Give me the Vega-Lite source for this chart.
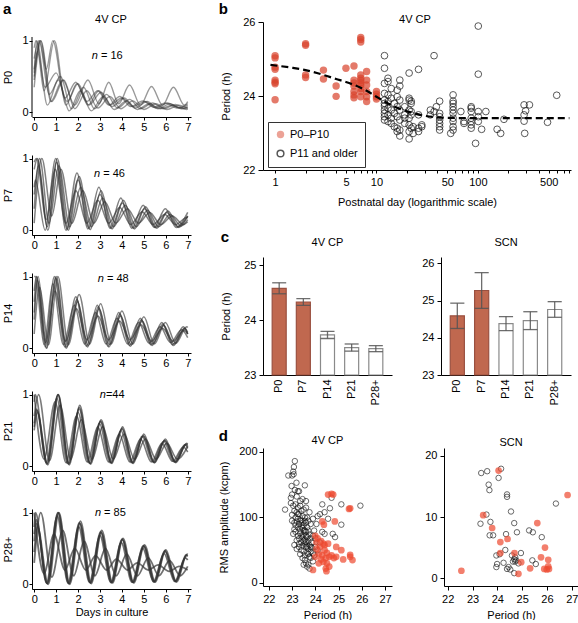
{
"$schema": "https://vega.github.io/schema/vega-lite/v6.json",
"padding": {"left": 2, "top": 2, "right": 0, "bottom": 0},
"config": {
  "font": "Liberation Sans",
  "view": {"stroke": null},
  "axis": {"grid": false, "domainColor": "#000", "tickColor": "#000", "labelColor": "#000", "titleColor": "#000", "labelFontSize": 11, "titleFontSize": 11, "titleFontWeight": "normal", "tickSize": 4, "labelPadding": 3, "labelFlush": false, "labelOverlap": false},
  "title": {"fontSize": 11, "fontWeight": "normal", "color": "#000"},
  "legend": {"labelFontSize": 11, "labelColor": "#000"}
},
"resolve": {"scale": {"fill": "independent", "stroke": "independent", "size": "independent"}, "legend": {"fill": "independent", "stroke": "independent", "size": "independent"}},
"datasets": {
  "a0": [
    {"k":1,"t":0,"v":0.75},{"k":1,"t":0.22,"v":1},{"k":1,"t":0.68,"v":0.25},{"k":1,"t":1.2,"v":0.5},{"k":1,"t":1.7,"v":0.05},{"k":1,"t":2.25,"v":0.35},{"k":1,"t":2.75,"v":0.05},{"k":1,"t":3.3,"v":0.25},{"k":1,"t":3.8,"v":0.06},{"k":1,"t":4.35,"v":0.18},{"k":1,"t":4.85,"v":0.05},{"k":1,"t":5.4,"v":0.13},{"k":1,"t":5.9,"v":0.05},{"k":1,"t":6.45,"v":0.11},{"k":1,"t":6.95,"v":0.04},{"k":1,"t":7,"v":0.045},
    {"k":2,"t":0,"v":0.55},{"k":2,"t":0.12,"v":1},{"k":2,"t":0.6,"v":0.1},{"k":2,"t":1.1,"v":0.45},{"k":2,"t":1.6,"v":0.02},{"k":2,"t":2.1,"v":0.3},{"k":2,"t":2.6,"v":0.02},{"k":2,"t":3.15,"v":0.22},{"k":2,"t":3.65,"v":0.04},{"k":2,"t":4.2,"v":0.16},{"k":2,"t":4.7,"v":0.04},{"k":2,"t":5.25,"v":0.12},{"k":2,"t":5.75,"v":0.05},{"k":2,"t":6.3,"v":0.1},{"k":2,"t":6.8,"v":0.05},{"k":2,"t":7,"v":0.07},
    {"k":3,"t":0,"v":0.6},{"k":3,"t":0.15,"v":0.85},{"k":3,"t":0.45,"v":0.3},{"k":3,"t":0.92,"v":1},{"k":3,"t":1.45,"v":0.1},{"k":3,"t":1.95,"v":0.4},{"k":3,"t":2.45,"v":0.1},{"k":3,"t":2.95,"v":0.3},{"k":3,"t":3.45,"v":0.1},{"k":3,"t":4,"v":0.2},{"k":3,"t":4.5,"v":0.08},{"k":3,"t":5.05,"v":0.15},{"k":3,"t":5.55,"v":0.06},{"k":3,"t":6.1,"v":0.13},{"k":3,"t":6.6,"v":0.06},{"k":3,"t":7,"v":0.1},
    {"k":4,"t":0,"v":0.5},{"k":4,"t":0.3,"v":1},{"k":4,"t":0.75,"v":0.15},{"k":4,"t":1.3,"v":0.45},{"k":4,"t":1.85,"v":0.1},{"k":4,"t":2.45,"v":0.45},{"k":4,"t":2.95,"v":0.12},{"k":4,"t":3.4,"v":0.42},{"k":4,"t":3.85,"v":0.12},{"k":4,"t":4.35,"v":0.38},{"k":4,"t":4.85,"v":0.1},{"k":4,"t":5.35,"v":0.36},{"k":4,"t":5.85,"v":0.1},{"k":4,"t":6.35,"v":0.35},{"k":4,"t":6.85,"v":0.1},{"k":4,"t":7,"v":0.15},
    {"k":5,"t":0,"v":0.9},{"k":5,"t":0.08,"v":1},{"k":5,"t":0.5,"v":0.35},{"k":5,"t":1,"v":0.55},{"k":5,"t":1.5,"v":0.15},{"k":5,"t":2,"v":0.4},{"k":5,"t":2.5,"v":0.1},{"k":5,"t":3.05,"v":0.28},{"k":5,"t":3.55,"v":0.08},{"k":5,"t":4.1,"v":0.2},{"k":5,"t":4.6,"v":0.06},{"k":5,"t":5.15,"v":0.15},{"k":5,"t":5.65,"v":0.05},{"k":5,"t":6.2,"v":0.12},{"k":5,"t":6.7,"v":0.05},{"k":5,"t":7,"v":0.08},
    {"k":6,"t":0,"v":0.35},{"k":6,"t":0.3,"v":1},{"k":6,"t":0.8,"v":0.15},{"k":6,"t":1.35,"v":0.45},{"k":6,"t":1.85,"v":0.05},{"k":6,"t":2.4,"v":0.3},{"k":6,"t":2.9,"v":0.06},{"k":6,"t":3.45,"v":0.22},{"k":6,"t":3.95,"v":0.05},{"k":6,"t":4.5,"v":0.16},{"k":6,"t":5,"v":0.04},{"k":6,"t":5.55,"v":0.12},{"k":6,"t":6.05,"v":0.04},{"k":6,"t":6.6,"v":0.1},{"k":6,"t":7,"v":0.05},
    {"k":7,"t":0,"v":0.45},{"k":7,"t":0.25,"v":1},{"k":7,"t":0.55,"v":0.6},{"k":7,"t":0.85,"v":1},{"k":7,"t":1.4,"v":0.2},{"k":7,"t":1.9,"v":0.42},{"k":7,"t":2.4,"v":0.15},{"k":7,"t":2.9,"v":0.3},{"k":7,"t":3.4,"v":0.1},{"k":7,"t":3.9,"v":0.22},{"k":7,"t":4.4,"v":0.08},{"k":7,"t":4.95,"v":0.16},{"k":7,"t":5.45,"v":0.07},{"k":7,"t":6,"v":0.13},{"k":7,"t":6.5,"v":0.06},{"k":7,"t":7,"v":0.12}
  ],
  "a7": [
    {"k":1,"t":0,"v":0.85},{"k":1,"t":0.15,"v":1},{"k":1,"t":0.6,"v":0.05},{"k":1,"t":1.02,"v":0.95},{"k":1,"t":1.5,"v":0.02},{"k":1,"t":2,"v":0.7},{"k":1,"t":2.5,"v":0.03},{"k":1,"t":3,"v":0.5},{"k":1,"t":3.5,"v":0.03},{"k":1,"t":4.02,"v":0.38},{"k":1,"t":4.52,"v":0.03},{"k":1,"t":5.03,"v":0.3},{"k":1,"t":5.53,"v":0.04},{"k":1,"t":6.05,"v":0.25},{"k":1,"t":6.55,"v":0.05},{"k":1,"t":7,"v":0.2},
    {"k":2,"t":0,"v":0.3},{"k":2,"t":0.25,"v":1},{"k":2,"t":0.68,"v":0.1},{"k":2,"t":1.12,"v":0.9},{"k":2,"t":1.62,"v":0.05},{"k":2,"t":2.12,"v":0.6},{"k":2,"t":2.62,"v":0.05},{"k":2,"t":3.12,"v":0.45},{"k":2,"t":3.62,"v":0.05},{"k":2,"t":4.15,"v":0.35},{"k":2,"t":4.65,"v":0.05},{"k":2,"t":5.17,"v":0.28},{"k":2,"t":5.67,"v":0.05},{"k":2,"t":6.2,"v":0.22},{"k":2,"t":6.7,"v":0.06},{"k":2,"t":7,"v":0.15},
    {"k":3,"t":0,"v":0.6},{"k":3,"t":0.05,"v":0.7},{"k":3,"t":0.5,"v":0},{"k":3,"t":0.98,"v":1},{"k":3,"t":1.45,"v":0},{"k":3,"t":1.95,"v":0.8},{"k":3,"t":2.45,"v":0.02},{"k":3,"t":2.95,"v":0.6},{"k":3,"t":3.45,"v":0.03},{"k":3,"t":3.95,"v":0.45},{"k":3,"t":4.45,"v":0.03},{"k":3,"t":4.97,"v":0.35},{"k":3,"t":5.47,"v":0.04},{"k":3,"t":5.98,"v":0.3},{"k":3,"t":6.48,"v":0.04},{"k":3,"t":7,"v":0.25},
    {"k":4,"t":0,"v":0.95},{"k":4,"t":0.1,"v":1},{"k":4,"t":0.55,"v":0.15},{"k":4,"t":0.95,"v":0.85},{"k":4,"t":1.45,"v":0.1},{"k":4,"t":1.9,"v":0.55},{"k":4,"t":2.4,"v":0.1},{"k":4,"t":2.9,"v":0.42},{"k":4,"t":3.4,"v":0.1},{"k":4,"t":3.9,"v":0.32},{"k":4,"t":4.4,"v":0.08},{"k":4,"t":4.92,"v":0.26},{"k":4,"t":5.42,"v":0.08},{"k":4,"t":5.95,"v":0.22},{"k":4,"t":6.45,"v":0.08},{"k":4,"t":6.95,"v":0.18},{"k":4,"t":7,"v":0.17},
    {"k":5,"t":0,"v":0.1},{"k":5,"t":0.35,"v":1},{"k":5,"t":0.8,"v":0.2},{"k":5,"t":1.22,"v":0.85},{"k":5,"t":1.72,"v":0.1},{"k":5,"t":2.22,"v":0.55},{"k":5,"t":2.72,"v":0.1},{"k":5,"t":3.22,"v":0.4},{"k":5,"t":3.72,"v":0.1},{"k":5,"t":4.25,"v":0.3},{"k":5,"t":4.75,"v":0.1},{"k":5,"t":5.27,"v":0.25},{"k":5,"t":5.77,"v":0.08},{"k":5,"t":6.3,"v":0.2},{"k":5,"t":6.8,"v":0.08},{"k":5,"t":7,"v":0.12},
    {"k":6,"t":0,"v":0.5},{"k":6,"t":0.2,"v":0.9},{"k":6,"t":0.62,"v":0},{"k":6,"t":1.05,"v":1},{"k":6,"t":1.55,"v":0},{"k":6,"t":2.05,"v":0.75},{"k":6,"t":2.55,"v":0.01},{"k":6,"t":3.05,"v":0.55},{"k":6,"t":3.55,"v":0.02},{"k":6,"t":4.07,"v":0.42},{"k":6,"t":4.57,"v":0.02},{"k":6,"t":5.08,"v":0.33},{"k":6,"t":5.58,"v":0.03},{"k":6,"t":6.1,"v":0.27},{"k":6,"t":6.6,"v":0.04},{"k":6,"t":7,"v":0.2}
  ],
  "a14": [
    {"k":1,"t":0,"v":0.8},{"k":1,"t":0.1,"v":1},{"k":1,"t":0.5,"v":0.02},{"k":1,"t":0.92,"v":1},{"k":1,"t":1.4,"v":0.02},{"k":1,"t":1.9,"v":0.72},{"k":1,"t":2.38,"v":0.03},{"k":1,"t":2.88,"v":0.6},{"k":1,"t":3.36,"v":0.03},{"k":1,"t":3.86,"v":0.5},{"k":1,"t":4.34,"v":0.04},{"k":1,"t":4.84,"v":0.42},{"k":1,"t":5.32,"v":0.05},{"k":1,"t":5.82,"v":0.36},{"k":1,"t":6.3,"v":0.05},{"k":1,"t":6.8,"v":0.3},{"k":1,"t":7,"v":0.2},
    {"k":2,"t":0,"v":0.5},{"k":2,"t":0.15,"v":0.95},{"k":2,"t":0.55,"v":0},{"k":2,"t":1,"v":1},{"k":2,"t":1.48,"v":0.02},{"k":2,"t":1.98,"v":0.65},{"k":2,"t":2.46,"v":0.04},{"k":2,"t":2.96,"v":0.55},{"k":2,"t":3.44,"v":0.05},{"k":2,"t":3.94,"v":0.45},{"k":2,"t":4.42,"v":0.05},{"k":2,"t":4.92,"v":0.38},{"k":2,"t":5.4,"v":0.06},{"k":2,"t":5.9,"v":0.32},{"k":2,"t":6.38,"v":0.06},{"k":2,"t":6.88,"v":0.28},{"k":2,"t":7,"v":0.22},
    {"k":3,"t":0,"v":1},{"k":3,"t":0.05,"v":1},{"k":3,"t":0.45,"v":0.05},{"k":3,"t":0.85,"v":0.9},{"k":3,"t":1.33,"v":0.05},{"k":3,"t":1.83,"v":0.6},{"k":3,"t":2.3,"v":0.06},{"k":3,"t":2.8,"v":0.5},{"k":3,"t":3.28,"v":0.06},{"k":3,"t":3.78,"v":0.42},{"k":3,"t":4.26,"v":0.06},{"k":3,"t":4.76,"v":0.36},{"k":3,"t":5.24,"v":0.07},{"k":3,"t":5.74,"v":0.3},{"k":3,"t":6.22,"v":0.08},{"k":3,"t":6.72,"v":0.26},{"k":3,"t":7,"v":0.15},
    {"k":4,"t":0,"v":0.2},{"k":4,"t":0.25,"v":0.85},{"k":4,"t":0.65,"v":0.05},{"k":4,"t":1.08,"v":1},{"k":4,"t":1.56,"v":0.05},{"k":4,"t":2.05,"v":0.75},{"k":4,"t":2.53,"v":0.06},{"k":4,"t":3.03,"v":0.62},{"k":4,"t":3.51,"v":0.06},{"k":4,"t":4,"v":0.52},{"k":4,"t":4.5,"v":0.06},{"k":4,"t":5,"v":0.44},{"k":4,"t":5.48,"v":0.06},{"k":4,"t":5.98,"v":0.36},{"k":4,"t":6.46,"v":0.07},{"k":4,"t":6.96,"v":0.3},{"k":4,"t":7,"v":0.29},
    {"k":5,"t":0,"v":0.65},{"k":5,"t":0.12,"v":1},{"k":5,"t":0.52,"v":0.08},{"k":5,"t":0.95,"v":0.8},{"k":5,"t":1.43,"v":0.1},{"k":5,"t":1.93,"v":0.55},{"k":5,"t":2.41,"v":0.12},{"k":5,"t":2.91,"v":0.45},{"k":5,"t":3.39,"v":0.12},{"k":5,"t":3.89,"v":0.38},{"k":5,"t":4.37,"v":0.12},{"k":5,"t":4.87,"v":0.33},{"k":5,"t":5.35,"v":0.1},{"k":5,"t":5.85,"v":0.28},{"k":5,"t":6.33,"v":0.1},{"k":5,"t":6.83,"v":0.25},{"k":5,"t":7,"v":0.2},
    {"k":6,"t":0,"v":0.4},{"k":6,"t":0.18,"v":1},{"k":6,"t":0.58,"v":0},{"k":6,"t":0.98,"v":0.98},{"k":6,"t":1.46,"v":0},{"k":6,"t":1.95,"v":0.68},{"k":6,"t":2.43,"v":0.02},{"k":6,"t":2.93,"v":0.58},{"k":6,"t":3.41,"v":0.02},{"k":6,"t":3.91,"v":0.48},{"k":6,"t":4.39,"v":0.03},{"k":6,"t":4.89,"v":0.4},{"k":6,"t":5.37,"v":0.04},{"k":6,"t":5.87,"v":0.34},{"k":6,"t":6.35,"v":0.04},{"k":6,"t":6.85,"v":0.28},{"k":6,"t":7,"v":0.2}
  ],
  "a21": [
    {"k":1,"t":0,"v":0.6},{"k":1,"t":0.1,"v":0.8},{"k":1,"t":0.58,"v":0.03},{"k":1,"t":1.08,"v":1},{"k":1,"t":1.57,"v":0.03},{"k":1,"t":2.05,"v":0.8},{"k":1,"t":2.54,"v":0.04},{"k":1,"t":3.02,"v":0.62},{"k":1,"t":3.51,"v":0.05},{"k":1,"t":4,"v":0.52},{"k":1,"t":4.48,"v":0.05},{"k":1,"t":4.97,"v":0.42},{"k":1,"t":5.46,"v":0.06},{"k":1,"t":5.95,"v":0.36},{"k":1,"t":6.43,"v":0.06},{"k":1,"t":6.92,"v":0.3},{"k":1,"t":7,"v":0.28},
    {"k":2,"t":0,"v":0.9},{"k":2,"t":0.05,"v":1},{"k":2,"t":0.55,"v":0.05},{"k":2,"t":1.03,"v":0.95},{"k":2,"t":1.52,"v":0.04},{"k":2,"t":2,"v":0.75},{"k":2,"t":2.49,"v":0.05},{"k":2,"t":2.97,"v":0.6},{"k":2,"t":3.46,"v":0.05},{"k":2,"t":3.95,"v":0.5},{"k":2,"t":4.43,"v":0.05},{"k":2,"t":4.92,"v":0.42},{"k":2,"t":5.41,"v":0.06},{"k":2,"t":5.9,"v":0.35},{"k":2,"t":6.38,"v":0.06},{"k":2,"t":6.87,"v":0.3},{"k":2,"t":7,"v":0.25},
    {"k":3,"t":0,"v":0.5},{"k":3,"t":0.15,"v":0.75},{"k":3,"t":0.62,"v":0.02},{"k":3,"t":1.1,"v":1},{"k":3,"t":1.6,"v":0.02},{"k":3,"t":2.08,"v":0.85},{"k":3,"t":2.57,"v":0.03},{"k":3,"t":3.05,"v":0.65},{"k":3,"t":3.54,"v":0.04},{"k":3,"t":4.03,"v":0.55},{"k":3,"t":4.51,"v":0.04},{"k":3,"t":5,"v":0.45},{"k":3,"t":5.49,"v":0.05},{"k":3,"t":5.98,"v":0.38},{"k":3,"t":6.46,"v":0.05},{"k":3,"t":6.95,"v":0.32},{"k":3,"t":7,"v":0.31},
    {"k":4,"t":0,"v":0.7},{"k":4,"t":0.2,"v":1},{"k":4,"t":0.7,"v":0.08},{"k":4,"t":1.18,"v":0.85},{"k":4,"t":1.67,"v":0.1},{"k":4,"t":2.15,"v":0.65},{"k":4,"t":2.64,"v":0.1},{"k":4,"t":3.12,"v":0.55},{"k":4,"t":3.61,"v":0.1},{"k":4,"t":4.1,"v":0.45},{"k":4,"t":4.58,"v":0.1},{"k":4,"t":5.07,"v":0.38},{"k":4,"t":5.56,"v":0.1},{"k":4,"t":6.05,"v":0.32},{"k":4,"t":6.53,"v":0.1},{"k":4,"t":7,"v":0.28},
    {"k":5,"t":0,"v":1},{"k":5,"t":0.45,"v":0.1},{"k":5,"t":0.95,"v":0.9},{"k":5,"t":1.45,"v":0.05},{"k":5,"t":1.93,"v":0.7},{"k":5,"t":2.42,"v":0.06},{"k":5,"t":2.9,"v":0.55},{"k":5,"t":3.39,"v":0.06},{"k":5,"t":3.88,"v":0.45},{"k":5,"t":4.36,"v":0.06},{"k":5,"t":4.85,"v":0.38},{"k":5,"t":5.34,"v":0.06},{"k":5,"t":5.83,"v":0.32},{"k":5,"t":6.31,"v":0.07},{"k":5,"t":6.8,"v":0.27},{"k":5,"t":7,"v":0.2},
    {"k":6,"t":0,"v":0.55},{"k":6,"t":0.12,"v":0.78},{"k":6,"t":0.6,"v":0.04},{"k":6,"t":1.09,"v":1},{"k":6,"t":1.58,"v":0.04},{"k":6,"t":2.06,"v":0.82},{"k":6,"t":2.55,"v":0.04},{"k":6,"t":3.03,"v":0.63},{"k":6,"t":3.52,"v":0.05},{"k":6,"t":4.01,"v":0.53},{"k":6,"t":4.49,"v":0.05},{"k":6,"t":4.98,"v":0.43},{"k":6,"t":5.47,"v":0.05},{"k":6,"t":5.96,"v":0.36},{"k":6,"t":6.44,"v":0.06},{"k":6,"t":6.93,"v":0.31},{"k":6,"t":7,"v":0.3}
  ],
  "a28": [
    {"k":1,"t":0,"v":0.6},{"k":1,"t":0.1,"v":0.85},{"k":1,"t":0.6,"v":0.01},{"k":1,"t":1.1,"v":1},{"k":1,"t":1.59,"v":0.01},{"k":1,"t":2.08,"v":0.85},{"k":1,"t":2.57,"v":0.02},{"k":1,"t":3.05,"v":0.72},{"k":1,"t":3.54,"v":0.03},{"k":1,"t":4.02,"v":0.62},{"k":1,"t":4.51,"v":0.03},{"k":1,"t":5,"v":0.53},{"k":1,"t":5.49,"v":0.04},{"k":1,"t":5.97,"v":0.46},{"k":1,"t":6.46,"v":0.04},{"k":1,"t":6.94,"v":0.4},{"k":1,"t":7,"v":0.39},
    {"k":2,"t":0,"v":0.8},{"k":2,"t":0.06,"v":1},{"k":2,"t":0.56,"v":0.02},{"k":2,"t":1.05,"v":0.95},{"k":2,"t":1.54,"v":0.02},{"k":2,"t":2.03,"v":0.8},{"k":2,"t":2.52,"v":0.03},{"k":2,"t":3,"v":0.68},{"k":2,"t":3.49,"v":0.03},{"k":2,"t":3.97,"v":0.58},{"k":2,"t":4.46,"v":0.03},{"k":2,"t":4.95,"v":0.5},{"k":2,"t":5.44,"v":0.04},{"k":2,"t":5.92,"v":0.43},{"k":2,"t":6.41,"v":0.04},{"k":2,"t":6.9,"v":0.37},{"k":2,"t":7,"v":0.34},
    {"k":3,"t":0,"v":0.45},{"k":3,"t":0.15,"v":0.8},{"k":3,"t":0.64,"v":0},{"k":3,"t":1.13,"v":1},{"k":3,"t":1.62,"v":0},{"k":3,"t":2.11,"v":0.88},{"k":3,"t":2.6,"v":0.01},{"k":3,"t":3.08,"v":0.75},{"k":3,"t":3.57,"v":0.02},{"k":3,"t":4.05,"v":0.64},{"k":3,"t":4.54,"v":0.02},{"k":3,"t":5.03,"v":0.55},{"k":3,"t":5.52,"v":0.03},{"k":3,"t":6,"v":0.48},{"k":3,"t":6.49,"v":0.03},{"k":3,"t":6.97,"v":0.42},{"k":3,"t":7,"v":0.415},
    {"k":4,"t":0,"v":0.3},{"k":4,"t":0.3,"v":1},{"k":4,"t":0.8,"v":0.1},{"k":4,"t":1.3,"v":0.75},{"k":4,"t":1.8,"v":0.12},{"k":4,"t":2.28,"v":0.6},{"k":4,"t":2.77,"v":0.12},{"k":4,"t":3.25,"v":0.5},{"k":4,"t":3.74,"v":0.12},{"k":4,"t":4.22,"v":0.42},{"k":4,"t":4.71,"v":0.12},{"k":4,"t":5.2,"v":0.37},{"k":4,"t":5.69,"v":0.12},{"k":4,"t":6.17,"v":0.33},{"k":4,"t":6.66,"v":0.12},{"k":4,"t":7,"v":0.25},
    {"k":5,"t":0,"v":1},{"k":5,"t":0.45,"v":0.15},{"k":5,"t":0.9,"v":0.7},{"k":5,"t":1.4,"v":0.2},{"k":5,"t":1.85,"v":0.5},{"k":5,"t":2.35,"v":0.2},{"k":5,"t":2.8,"v":0.4},{"k":5,"t":3.3,"v":0.2},{"k":5,"t":3.75,"v":0.35},{"k":5,"t":4.25,"v":0.2},{"k":5,"t":4.7,"v":0.3},{"k":5,"t":5.2,"v":0.2},{"k":5,"t":5.65,"v":0.27},{"k":5,"t":6.15,"v":0.18},{"k":5,"t":6.6,"v":0.25},{"k":5,"t":7,"v":0.2},
    {"k":6,"t":0,"v":0.7},{"k":6,"t":0.09,"v":0.9},{"k":6,"t":0.59,"v":0.01},{"k":6,"t":1.08,"v":1},{"k":6,"t":1.57,"v":0.01},{"k":6,"t":2.06,"v":0.86},{"k":6,"t":2.55,"v":0.02},{"k":6,"t":3.03,"v":0.73},{"k":6,"t":3.52,"v":0.02},{"k":6,"t":4.01,"v":0.63},{"k":6,"t":4.5,"v":0.03},{"k":6,"t":4.98,"v":0.54},{"k":6,"t":5.47,"v":0.03},{"k":6,"t":5.96,"v":0.47},{"k":6,"t":6.44,"v":0.04},{"k":6,"t":6.93,"v":0.41},{"k":6,"t":7,"v":0.4}
  ],
  "b": [
    {"d":12,"p":25.09,"g":"o"},{"d":12,"p":24.75,"g":"o"},{"d":12,"p":24.34,"g":"o"},{"d":12,"p":24.07,"g":"o"},{"d":12,"p":23.89,"g":"o"},{"d":12,"p":23.8,"g":"o"},{"d":12,"p":23.73,"g":"o"},{"d":12,"p":23.62,"g":"o"},{"d":12,"p":23.53,"g":"o"},{"d":12,"p":23.44,"g":"o"},{"d":12,"p":23.35,"g":"o"},
    {"d":13,"p":24.48,"g":"o"},{"d":13,"p":24.39,"g":"o"},{"d":13,"p":24.03,"g":"o"},{"d":13,"p":23.85,"g":"o"},{"d":13,"p":23.67,"g":"o"},{"d":13,"p":23.49,"g":"o"},{"d":13,"p":23.31,"g":"o"},
    {"d":14,"p":24.2,"g":"o"},{"d":14,"p":23.94,"g":"o"},{"d":14,"p":23.62,"g":"o"},{"d":14,"p":23.4,"g":"o"},{"d":14,"p":23.26,"g":"o"},
    {"d":15,"p":23.8,"g":"o"},{"d":15,"p":23.53,"g":"o"},{"d":15,"p":23.17,"g":"o"},
    {"d":16,"p":24.16,"g":"o"},{"d":16,"p":23.98,"g":"o"},{"d":16,"p":23.71,"g":"o"},{"d":16,"p":23.44,"g":"o"},{"d":16,"p":23.13,"g":"o"},{"d":16,"p":23.04,"g":"o"},
    {"d":17,"p":24.43,"g":"o"},{"d":17,"p":24.27,"g":"o"},{"d":17,"p":23.89,"g":"o"},{"d":17,"p":23.62,"g":"o"},{"d":17,"p":23.35,"g":"o"},{"d":17,"p":23.08,"g":"o"},{"d":17,"p":22.92,"g":"o"},
    {"d":19,"p":23.71,"g":"o"},{"d":19,"p":23.49,"g":"o"},{"d":19,"p":23.4,"g":"o"},{"d":19,"p":23.26,"g":"o"},
    {"d":21,"p":24.62,"g":"o"},{"d":21,"p":23.94,"g":"o"},{"d":21,"p":23.89,"g":"o"},{"d":21,"p":23.62,"g":"o"},{"d":21,"p":23.4,"g":"o"},{"d":21,"p":23.22,"g":"o"},{"d":21,"p":23.04,"g":"o"},{"d":21,"p":22.84,"g":"o"},
    {"d":22,"p":23.86,"g":"o"},{"d":22,"p":23.8,"g":"o"},{"d":22,"p":23.49,"g":"o"},{"d":22,"p":23.13,"g":"o"},{"d":22,"p":23.58,"g":"o"},
    {"d":23,"p":23.17,"g":"o"},{"d":23,"p":22.99,"g":"o"},
    {"d":26,"p":24.72,"g":"o"},{"d":26,"p":23.49,"g":"o"},{"d":26,"p":23.13,"g":"o"},{"d":26,"p":23.04,"g":"o"},
    {"d":28,"p":23.22,"g":"o"},{"d":28,"p":23.17,"g":"o"},
    {"d":34,"p":23.62,"g":"o"},{"d":34,"p":23.49,"g":"o"},
    {"d":37,"p":25.09,"g":"o"},{"d":37,"p":23.58,"g":"o"},{"d":39,"p":23.71,"g":"o"},
    {"d":42,"p":23.86,"g":"o"},{"d":42,"p":23.53,"g":"o"},{"d":42,"p":23.44,"g":"o"},{"d":42,"p":23.35,"g":"o"},{"d":42,"p":23.26,"g":"o"},{"d":42,"p":23.17,"g":"o"},{"d":42,"p":23.08,"g":"o"},
    {"d":54,"p":22.99,"g":"o"},
    {"d":57,"p":24.03,"g":"o"},{"d":57,"p":23.86,"g":"o"},{"d":57,"p":23.8,"g":"o"},{"d":57,"p":23.71,"g":"o"},{"d":57,"p":23.62,"g":"o"},{"d":57,"p":23.53,"g":"o"},{"d":57,"p":23.4,"g":"o"},{"d":57,"p":23.31,"g":"o"},{"d":57,"p":23.17,"g":"o"},{"d":57,"p":23.08,"g":"o"},
    {"d":68,"p":23.58,"g":"o"},{"d":73,"p":23.26,"g":"o"},{"d":73,"p":23.31,"g":"o"},
    {"d":86,"p":23.71,"g":"o"},{"d":86,"p":23.67,"g":"o"},{"d":86,"p":23.58,"g":"o"},{"d":86,"p":23.4,"g":"o"},{"d":86,"p":23.31,"g":"o"},{"d":86,"p":23.22,"g":"o"},{"d":86,"p":23.13,"g":"o"},
    {"d":95,"p":22.72,"g":"o"},
    {"d":101,"p":25.89,"g":"o"},{"d":101,"p":24.59,"g":"o"},{"d":101,"p":23.58,"g":"o"},{"d":101,"p":23.44,"g":"o"},{"d":101,"p":23.31,"g":"o"},
    {"d":109,"p":23.1,"g":"o"},{"d":120,"p":23.58,"g":"o"},{"d":155,"p":23.1,"g":"o"},{"d":168,"p":22.99,"g":"o"},{"d":181,"p":23.37,"g":"o"},
    {"d":286,"p":23.76,"g":"o"},{"d":286,"p":23.49,"g":"o"},{"d":286,"p":23.32,"g":"o"},{"d":296,"p":23.6,"g":"o"},{"d":290,"p":22.99,"g":"o"},{"d":323,"p":23.76,"g":"o"},
    {"d":487,"p":23.29,"g":"o"},{"d":600,"p":24.02,"g":"o"},
    {"d":1,"p":25.09,"g":"y"},{"d":1,"p":25.03,"g":"y"},{"d":1,"p":24.78,"g":"y"},{"d":1,"p":24.72,"g":"y"},{"d":1,"p":24.43,"g":"y"},{"d":1,"p":24.37,"g":"y"},{"d":1,"p":24.33,"g":"y"},{"d":1,"p":23.9,"g":"y"},
    {"d":2,"p":25.41,"g":"y"},{"d":2,"p":25.37,"g":"y"},{"d":2,"p":24.57,"g":"y"},{"d":2,"p":24.5,"g":"y"},
    {"d":3,"p":24.7,"g":"y"},{"d":3,"p":24.46,"g":"y"},
    {"d":4,"p":24.27,"g":"y"},{"d":4,"p":23.99,"g":"y"},
    {"d":5,"p":24.75,"g":"y"},
    {"d":6,"p":24.81,"g":"y"},{"d":6,"p":24.43,"g":"y"},{"d":6,"p":24.35,"g":"y"},{"d":6,"p":24.27,"g":"y"},{"d":6,"p":24.12,"g":"y"},{"d":6,"p":24.03,"g":"y"},{"d":6,"p":23.95,"g":"y"},
    {"d":7,"p":25.58,"g":"y"},{"d":7,"p":25.53,"g":"y"},{"d":7,"p":25.46,"g":"y"},{"d":7,"p":24.57,"g":"y"},{"d":7,"p":24.48,"g":"y"},{"d":7,"p":24.42,"g":"y"},{"d":7,"p":24.36,"g":"y"},{"d":7,"p":24.3,"g":"y"},{"d":7,"p":24.2,"g":"y"},{"d":7,"p":24.12,"g":"y"},{"d":7,"p":23.98,"g":"y"},
    {"d":8,"p":24.66,"g":"y"},{"d":8,"p":24.43,"g":"y"},{"d":8,"p":24.3,"g":"y"},{"d":8,"p":24.12,"g":"y"},{"d":8,"p":23.98,"g":"y"},{"d":8,"p":23.85,"g":"y"},
    {"d":10,"p":24.12,"g":"y"},{"d":10,"p":24.05,"g":"y"},{"d":10,"p":23.98,"g":"y"},{"d":10,"p":23.92,"g":"y"}
  ],
  "bf": [
    {"d":0.9,"p":24.84},{"d":1.5,"p":24.76},{"d":2,"p":24.7},{"d":3,"p":24.57},{"d":4,"p":24.46},{"d":5,"p":24.38},{"d":6,"p":24.3},{"d":7,"p":24.22},{"d":8,"p":24.14},{"d":10,"p":23.98},{"d":13,"p":23.8},{"d":16,"p":23.68},{"d":21,"p":23.57},{"d":28,"p":23.48},{"d":37,"p":23.43},{"d":50,"p":23.41},{"d":100,"p":23.4},{"d":800,"p":23.4}
  ],
  "c4": [
    {"a":"P0","m":24.58,"e":0.1},{"a":"P7","m":24.33,"e":0.06},{"a":"P14","m":23.73,"e":0.065},{"a":"P21","m":23.5,"e":0.065},{"a":"P28+","m":23.48,"e":0.055}
  ],
  "cs": [
    {"a":"P0","m":24.59,"e":0.34},{"a":"P7","m":25.27,"e":0.48},{"a":"P14","m":24.38,"e":0.19},{"a":"P21","m":24.46,"e":0.24},{"a":"P28+","m":24.76,"e":0.21}
  ],
  "d4": [
    {"p":23.12,"a":186,"g":"o"},{"p":23.08,"a":177,"g":"o"},{"p":23.05,"a":170,"g":"o"},{"p":22.84,"a":164,"g":"o"},{"p":23.0,"a":164,"g":"o"},{"p":23.07,"a":166,"g":"o"},{"p":23.19,"a":153,"g":"o"},{"p":23.55,"a":149,"g":"o"},{"p":22.98,"a":148,"g":"o"},{"p":23.12,"a":142,"g":"o"},{"p":23.3,"a":140,"g":"o"},{"p":23.0,"a":135,"g":"o"},{"p":22.95,"a":130,"g":"o"},{"p":23.2,"a":132,"g":"o"},{"p":23.45,"a":128,"g":"o"},{"p":23.6,"a":125,"g":"o"},{"p":22.7,"a":112,"g":"o"},
    {"p":22.95,"a":122,"g":"o"},{"p":23.05,"a":118,"g":"o"},{"p":23.15,"a":120,"g":"o"},{"p":23.25,"a":115,"g":"o"},{"p":23.35,"a":118,"g":"o"},{"p":23.1,"a":110,"g":"o"},{"p":23.2,"a":108,"g":"o"},{"p":23.3,"a":105,"g":"o"},{"p":23.4,"a":110,"g":"o"},{"p":23.5,"a":112,"g":"o"},{"p":23.6,"a":115,"g":"o"},{"p":23.75,"a":108,"g":"o"},{"p":23.0,"a":104,"g":"o"},{"p":23.45,"a":102,"g":"o"},{"p":23.55,"a":100,"g":"o"},{"p":23.15,"a":100,"g":"o"},
    {"p":23.0,"a":95,"g":"o"},{"p":23.1,"a":92,"g":"o"},{"p":23.2,"a":94,"g":"o"},{"p":23.3,"a":90,"g":"o"},{"p":23.4,"a":96,"g":"o"},{"p":23.5,"a":88,"g":"o"},{"p":23.6,"a":92,"g":"o"},{"p":23.7,"a":95,"g":"o"},{"p":23.8,"a":90,"g":"o"},{"p":23.25,"a":85,"g":"o"},{"p":23.35,"a":82,"g":"o"},{"p":23.45,"a":84,"g":"o"},{"p":23.55,"a":80,"g":"o"},{"p":23.65,"a":85,"g":"o"},{"p":23.9,"a":98,"g":"o"},{"p":23.1,"a":82,"g":"o"},
    {"p":23.05,"a":75,"g":"o"},{"p":23.15,"a":78,"g":"o"},{"p":23.25,"a":72,"g":"o"},{"p":23.35,"a":76,"g":"o"},{"p":23.45,"a":70,"g":"o"},{"p":23.5,"a":74,"g":"o"},{"p":23.55,"a":66,"g":"o"},{"p":23.6,"a":78,"g":"o"},{"p":23.65,"a":70,"g":"o"},{"p":23.7,"a":64,"g":"o"},{"p":23.75,"a":74,"g":"o"},{"p":23.8,"a":68,"g":"o"},{"p":23.4,"a":62,"g":"o"},{"p":23.2,"a":65,"g":"o"},{"p":23.3,"a":60,"g":"o"},{"p":23.85,"a":62,"g":"o"},{"p":23.9,"a":72,"g":"o"},{"p":23.55,"a":60,"g":"o"},
    {"p":23.1,"a":58,"g":"o"},{"p":23.2,"a":52,"g":"o"},{"p":23.3,"a":55,"g":"o"},{"p":23.4,"a":50,"g":"o"},{"p":23.45,"a":57,"g":"o"},{"p":23.5,"a":48,"g":"o"},{"p":23.6,"a":55,"g":"o"},{"p":23.65,"a":46,"g":"o"},{"p":23.7,"a":52,"g":"o"},{"p":23.75,"a":58,"g":"o"},{"p":23.8,"a":48,"g":"o"},{"p":23.85,"a":54,"g":"o"},{"p":23.9,"a":45,"g":"o"},{"p":23.55,"a":42,"g":"o"},{"p":23.35,"a":44,"g":"o"},
    {"p":23.45,"a":38,"g":"o"},{"p":23.55,"a":35,"g":"o"},{"p":23.6,"a":30,"g":"o"},{"p":23.65,"a":25,"g":"o"},{"p":23.7,"a":28,"g":"o"},{"p":23.8,"a":38,"g":"o"},{"p":23.75,"a":22,"g":"o"},{"p":23.5,"a":28,"g":"o"},{"p":23.9,"a":33,"g":"o"},
    {"p":24.3,"a":120,"g":"o"},{"p":24.63,"a":114,"g":"o"},{"p":24.7,"a":130,"g":"o"},{"p":25.12,"a":120,"g":"o"},{"p":25.94,"a":118,"g":"o"},{"p":25.12,"a":89,"g":"o"},{"p":24.4,"a":108,"g":"o"},{"p":24.2,"a":105,"g":"o"},{"p":24.1,"a":102,"g":"o"},{"p":24.55,"a":98,"g":"o"},{"p":24.75,"a":75,"g":"o"},{"p":24.3,"a":78,"g":"o"},{"p":24.4,"a":75,"g":"o"},{"p":24.05,"a":90,"g":"o"},{"p":24.0,"a":68,"g":"o"},{"p":24.2,"a":62,"g":"o"},{"p":24.85,"a":70,"g":"o"},{"p":23.95,"a":80,"g":"o"},{"p":24.0,"a":55,"g":"o"},{"p":24.1,"a":50,"g":"o"},{"p":23.95,"a":42,"g":"o"},
    {"p":23.25,"a":98,"g":"o"},{"p":23.35,"a":95,"g":"o"},{"p":23.45,"a":92,"g":"o"},{"p":23.55,"a":95,"g":"o"},{"p":23.65,"a":100,"g":"o"},{"p":23.4,"a":86,"g":"o"},{"p":23.5,"a":80,"g":"o"},{"p":23.6,"a":72,"g":"o"},{"p":23.7,"a":80,"g":"o"},{"p":23.3,"a":68,"g":"o"},{"p":23.4,"a":72,"g":"o"},{"p":23.5,"a":64,"g":"o"},{"p":23.6,"a":62,"g":"o"},{"p":23.65,"a":56,"g":"o"},{"p":23.7,"a":44,"g":"o"},{"p":23.75,"a":40,"g":"o"},{"p":23.8,"a":55,"g":"o"},{"p":23.15,"a":88,"g":"o"},{"p":23.25,"a":105,"g":"o"},{"p":23.35,"a":125,"g":"o"},{"p":23.25,"a":140,"g":"o"},
    {"p":24.55,"a":135,"g":"y"},{"p":24.7,"a":136,"g":"y"},{"p":24.77,"a":135,"g":"y"},{"p":25.45,"a":113,"g":"y"},{"p":25.5,"a":114,"g":"y"},{"p":24.84,"a":94,"g":"y"},{"p":24.3,"a":94,"g":"y"},{"p":24.37,"a":89,"g":"y"},{"p":24.0,"a":72,"g":"y"},{"p":24.1,"a":68,"g":"y"},{"p":24.25,"a":64,"g":"y"},{"p":24.35,"a":60,"g":"y"},{"p":24.2,"a":55,"g":"y"},{"p":24.05,"a":52,"g":"y"},{"p":24.4,"a":50,"g":"y"},{"p":24.15,"a":45,"g":"y"},{"p":24.3,"a":42,"g":"y"},{"p":24.5,"a":46,"g":"y"},{"p":24.6,"a":40,"g":"y"},{"p":24.45,"a":38,"g":"y"},{"p":24.25,"a":36,"g":"y"},{"p":24.35,"a":32,"g":"y"},{"p":24.5,"a":30,"g":"y"},{"p":24.7,"a":42,"g":"y"},{"p":24.8,"a":38,"g":"y"},{"p":24.9,"a":40,"g":"y"},{"p":25.12,"a":50,"g":"y"},{"p":25.2,"a":36,"g":"y"},{"p":25.5,"a":43,"g":"y"},{"p":25.6,"a":35,"g":"y"},{"p":25.5,"a":40,"g":"y"},{"p":23.9,"a":20,"g":"y"},{"p":24.48,"a":18,"g":"y"},{"p":24.45,"a":22,"g":"y"},{"p":24.6,"a":25,"g":"y"},{"p":24.0,"a":40,"g":"y"},{"p":24.15,"a":30,"g":"y"},{"p":24.4,"a":58,"g":"y"},{"p":24.55,"a":60,"g":"y"},{"p":24.9,"a":55,"g":"y"},{"p":24.05,"a":62,"g":"y"}
  ],
  "ds": [
    {"p":23.35,"a":17.2,"g":"o"},{"p":23.59,"a":17.5,"g":"o"},{"p":24.15,"a":17.9,"g":"o"},{"p":24.05,"a":16.4,"g":"o"},{"p":23.65,"a":15.3,"g":"o"},{"p":23.68,"a":14.4,"g":"o"},{"p":24.39,"a":13.7,"g":"o"},{"p":24.39,"a":13.3,"g":"o"},{"p":24.55,"a":10.9,"g":"o"},{"p":26.36,"a":12.2,"g":"o"},{"p":23.56,"a":10.4,"g":"o"},{"p":23.32,"a":8.9,"g":"o"},{"p":23.72,"a":9.2,"g":"o"},{"p":23.69,"a":7.0,"g":"o"},{"p":23.83,"a":7.0,"g":"o"},{"p":24.68,"a":9.0,"g":"o"},{"p":24.79,"a":7.5,"g":"o"},{"p":24.35,"a":7.2,"g":"o"},{"p":25.28,"a":7.8,"g":"o"},{"p":25.43,"a":7.5,"g":"o"},{"p":25.79,"a":6.7,"g":"o"},{"p":24.32,"a":4.6,"g":"o"},{"p":23.96,"a":3.7,"g":"o"},{"p":24.09,"a":3.9,"g":"o"},{"p":24.59,"a":3.7,"g":"o"},{"p":24.72,"a":3.4,"g":"o"},{"p":24.95,"a":4.1,"g":"o"},{"p":25.41,"a":2.9,"g":"o"},{"p":25.55,"a":2.3,"g":"o"},{"p":23.99,"a":2.3,"g":"o"},{"p":23.96,"a":1.8,"g":"o"},{"p":24.25,"a":2.5,"g":"o"},{"p":24.45,"a":1.8,"g":"o"},{"p":24.52,"a":1.4,"g":"o"},{"p":24.39,"a":1.5,"g":"o"},{"p":24.63,"a":2.7,"g":"o"},{"p":24.68,"a":3.1,"g":"o"},{"p":24.76,"a":2.9,"g":"o"},{"p":24.85,"a":2.4,"g":"o"},{"p":24.72,"a":2.7,"g":"o"},{"p":24.68,"a":0.8,"g":"o"},
    {"p":22.55,"a":1.2,"g":"y"},{"p":23.43,"a":10.3,"g":"y"},{"p":23.79,"a":8.2,"g":"y"},{"p":24.05,"a":17.6,"g":"y"},{"p":24.12,"a":5.9,"g":"y"},{"p":24.41,"a":6.4,"g":"y"},{"p":24.12,"a":4.1,"g":"y"},{"p":24.69,"a":4.1,"g":"y"},{"p":24.96,"a":2.6,"g":"y"},{"p":24.85,"a":0.7,"g":"y"},{"p":25.61,"a":9.0,"g":"y"},{"p":25.92,"a":5.0,"g":"y"},{"p":25.76,"a":3.4,"g":"y"},{"p":25.32,"a":1.6,"g":"y"},{"p":26.05,"a":3.0,"g":"y"},{"p":26.05,"a":1.9,"g":"y"},{"p":26.08,"a":1.5,"g":"y"},{"p":25.99,"a":1.4,"g":"y"},{"p":25.89,"a":1.5,"g":"y"},{"p":26.83,"a":13.6,"g":"y"}
  ]
},
"columns": 2,
"align": "none",
"spacing": 27,
"concat": [
  {
    "title": {"text": "a", "anchor": "start", "frame": "bounds", "fontSize": 15, "fontWeight": "bold", "offset": -3},
    "spacing": 20,
    "vconcat": [
      {"width": 159, "height": 95,
       "resolve": {"axis": {"x": "independent", "y": "independent"}},
       "layer": [
        {"data": {"name": "a0"}, "mark": {"type": "line", "interpolate": "monotone", "color": "#333", "strokeWidth": 1.4, "opacity": 0.5, "clip": true},
         "encoding": {"x": {"field": "t", "type": "quantitative", "scale": {"domain": [-0.1, 7.15], "nice": false, "zero": false}, "axis": {"values": [0,1,2,3,4,5,6,7], "format": "d", "labelOverlap": false, "title": null, "tickSize": 3, "labelPadding": 1}},
                      "y": {"field": "v", "type": "quantitative", "scale": {"domain": [-0.065, 1.259], "nice": false}, "axis": {"values": [0,1], "format": "d", "domain": false, "title": "P0", "titleY": 55, "tickSize": 3, "labelPadding": 1, "titlePadding": 8}},
                      "detail": {"field": "k", "type": "nominal"}}},
        {"data": {"values": [{}]}, "mark": {"type": "rule", "color": "#000", "strokeWidth": 1}, "encoding": {"x": {"datum": -0.1, "axis": null}, "y": {"datum": -0.065, "axis": null}, "y2": {"datum": 1.05}}},
        {"data": {"values": [{}]}, "mark": {"type": "text", "fontSize": 11, "baseline": "middle", "dy": -2}, "encoding": {"x": {"datum": 3.5, "axis": null}, "y": {"datum": 1.259, "axis": null}, "text": {"value": "4V CP"}}},
        {"data": {"values": [{}]}, "mark": {"type": "text", "fontStyle": "italic", "align": "right", "dx": -2, "fontSize": 11}, "encoding": {"x": {"datum": 3.0, "axis": null}, "y": {"datum": 0.78, "axis": null}, "text": {"value": "n"}}},
        {"data": {"values": [{}]}, "mark": {"type": "text", "align": "left", "dx": 1, "fontSize": 11}, "encoding": {"x": {"datum": 3.0, "axis": null}, "y": {"datum": 0.78, "axis": null}, "text": {"value": "= 16"}}}
       ]},
      {"width": 159, "height": 80,
       "resolve": {"axis": {"x": "independent", "y": "independent"}},
       "layer": [
        {"data": {"name": "a7"}, "mark": {"type": "line", "interpolate": "monotone", "color": "#333", "strokeWidth": 1.5, "opacity": 0.62, "clip": true},
         "encoding": {"x": {"field": "t", "type": "quantitative", "scale": {"domain": [-0.1, 7.15], "nice": false, "zero": false}, "axis": {"values": [0,1,2,3,4,5,6,7], "format": "d", "labelOverlap": false, "title": null, "tickSize": 3, "labelPadding": 1}},
                      "y": {"field": "v", "type": "quantitative", "scale": {"domain": [-0.065, 1.05], "nice": false}, "axis": {"values": [0,1], "format": "d", "title": "P7", "tickSize": 3, "labelPadding": 1, "titlePadding": 8}},
                      "detail": {"field": "k", "type": "nominal"}}},
        {"data": {"values": [{}]}, "mark": {"type": "text", "fontStyle": "italic", "align": "right", "dx": -2, "fontSize": 11}, "encoding": {"x": {"datum": 3.1, "axis": null}, "y": {"datum": 0.79, "axis": null}, "text": {"value": "n"}}},
        {"data": {"values": [{}]}, "mark": {"type": "text", "align": "left", "dx": 1, "fontSize": 11}, "encoding": {"x": {"datum": 3.1, "axis": null}, "y": {"datum": 0.79, "axis": null}, "text": {"value": "= 46"}}}
       ]},
      {"width": 159, "height": 80,
       "resolve": {"axis": {"x": "independent", "y": "independent"}},
       "layer": [
        {"data": {"name": "a14"}, "mark": {"type": "line", "interpolate": "monotone", "color": "#333", "strokeWidth": 1.5, "opacity": 0.62, "clip": true},
         "encoding": {"x": {"field": "t", "type": "quantitative", "scale": {"domain": [-0.1, 7.15], "nice": false, "zero": false}, "axis": {"values": [0,1,2,3,4,5,6,7], "format": "d", "labelOverlap": false, "title": null, "tickSize": 3, "labelPadding": 1}},
                      "y": {"field": "v", "type": "quantitative", "scale": {"domain": [-0.065, 1.05], "nice": false}, "axis": {"values": [0,1], "format": "d", "title": "P14", "tickSize": 3, "labelPadding": 1, "titlePadding": 8}},
                      "detail": {"field": "k", "type": "nominal"}}},
        {"data": {"values": [{}]}, "mark": {"type": "text", "fontStyle": "italic", "align": "right", "dx": -2, "fontSize": 11}, "encoding": {"x": {"datum": 3.27, "axis": null}, "y": {"datum": 0.96, "axis": null}, "text": {"value": "n"}}},
        {"data": {"values": [{}]}, "mark": {"type": "text", "align": "left", "dx": 1, "fontSize": 11}, "encoding": {"x": {"datum": 3.27, "axis": null}, "y": {"datum": 0.96, "axis": null}, "text": {"value": "= 48"}}}
       ]},
      {"width": 159, "height": 80,
       "resolve": {"axis": {"x": "independent", "y": "independent"}},
       "layer": [
        {"data": {"name": "a21"}, "mark": {"type": "line", "interpolate": "monotone", "color": "#333", "strokeWidth": 1.6, "opacity": 0.65, "clip": true},
         "encoding": {"x": {"field": "t", "type": "quantitative", "scale": {"domain": [-0.1, 7.15], "nice": false, "zero": false}, "axis": {"values": [0,1,2,3,4,5,6,7], "format": "d", "labelOverlap": false, "title": null, "tickSize": 3, "labelPadding": 1}},
                      "y": {"field": "v", "type": "quantitative", "scale": {"domain": [-0.065, 1.05], "nice": false}, "axis": {"values": [0,1], "format": "d", "title": "P21", "tickSize": 3, "labelPadding": 1, "titlePadding": 8}},
                      "detail": {"field": "k", "type": "nominal"}}},
        {"data": {"values": [{}]}, "mark": {"type": "text", "fontStyle": "italic", "align": "right", "dx": 0, "fontSize": 11}, "encoding": {"x": {"datum": 3.27, "axis": null}, "y": {"datum": 1.0, "axis": null}, "text": {"value": "n"}}},
        {"data": {"values": [{}]}, "mark": {"type": "text", "align": "left", "dx": 0, "fontSize": 11}, "encoding": {"x": {"datum": 3.27, "axis": null}, "y": {"datum": 1.0, "axis": null}, "text": {"value": "=44"}}}
       ]},
      {"width": 159, "height": 80,
       "resolve": {"axis": {"x": "independent", "y": "independent"}},
       "layer": [
        {"data": {"name": "a28"}, "mark": {"type": "line", "interpolate": "monotone", "color": "#333", "strokeWidth": 1.8, "opacity": 0.7, "clip": true},
         "encoding": {"x": {"field": "t", "type": "quantitative", "scale": {"domain": [-0.1, 7.15], "nice": false, "zero": false}, "axis": {"values": [0,1,2,3,4,5,6,7], "format": "d", "labelOverlap": false, "title": "Days in culture", "tickSize": 3, "labelPadding": 1, "titlePadding": 2}},
                      "y": {"field": "v", "type": "quantitative", "scale": {"domain": [-0.065, 1.05], "nice": false}, "axis": {"values": [0,1], "format": "d", "title": "P28+", "tickSize": 3, "labelPadding": 1, "titlePadding": 8}},
                      "detail": {"field": "k", "type": "nominal"}}},
        {"data": {"values": [{}]}, "mark": {"type": "text", "fontStyle": "italic", "align": "right", "dx": -2, "fontSize": 11}, "encoding": {"x": {"datum": 3.14, "axis": null}, "y": {"datum": 1.0, "axis": null}, "text": {"value": "n"}}},
        {"data": {"values": [{}]}, "mark": {"type": "text", "align": "left", "dx": 1, "fontSize": 11}, "encoding": {"x": {"datum": 3.14, "axis": null}, "y": {"datum": 1.0, "axis": null}, "text": {"value": "= 85"}}}
       ]}
    ]
  },
  {
    "title": {"text": "b", "anchor": "start", "frame": "bounds", "fontSize": 15, "fontWeight": "bold", "offset": -3},
    "resolve": {"scale": {"fill": "independent", "stroke": "independent", "size": "independent"}, "legend": {"fill": "independent", "stroke": "independent", "size": "independent"}},
    "spacing": 23,
    "vconcat": [
      {"vconcat": [
        {"width": 308, "height": 148,
         "layer": [
          {"data": {"name": "b"}, "mark": {"type": "point", "filled": true, "opacity": 0.7, "strokeWidth": 1},
           "encoding": {
             "x": {"field": "d", "type": "quantitative", "scale": {"type": "log", "domain": [0.76, 830], "nice": false}, "axis": {"values": [1,2,3,4,5,6,7,8,9,10,20,30,40,50,60,70,80,90,100,200,300,400,500,600,700,800], "format": "d", "labelOverlap": false, "labelExpr": "indexof([1,5,10,50,100,500], datum.value) >= 0 ? datum.label : ''", "title": "Postnatal day (logarithmic scale)", "titlePadding": 9, "tickSize": 3}},
             "y": {"field": "p", "type": "quantitative", "scale": {"domain": [22, 26], "nice": false, "zero": false}, "axis": {"values": [22,23,24,25,26], "title": "Period (h)", "tickSize": 5, "labelPadding": 3, "titlePadding": 11}},
             "fill": {"field": "g", "type": "nominal", "scale": {"domain": ["y", "o"], "range": ["#d9432c", "rgba(0,0,0,0)"]},
                      "legend": {"orient": "none", "legendX": 5, "legendY": 100, "title": null, "strokeColor": "#333", "padding": 7, "rowPadding": 5, "labelFontSize": 11, "fillColor": "#fff", "labelExpr": "datum.value == 'y' ? 'P0–P10' : 'P11 and older'"}},
             "stroke": {"field": "g", "type": "nominal", "scale": {"domain": ["y", "o"], "range": ["rgba(0,0,0,0)", "#111"]},
                      "legend": {"orient": "none", "legendX": 5, "legendY": 100, "title": null, "strokeColor": "#333", "padding": 7, "rowPadding": 5, "labelFontSize": 11, "fillColor": "#fff", "labelExpr": "datum.value == 'y' ? 'P0–P10' : 'P11 and older'"}},
             "size": {"field": "g", "type": "nominal", "scale": {"domain": ["y", "o"], "range": [55, 45]},
                      "legend": {"orient": "none", "legendX": 5, "legendY": 100, "title": null, "strokeColor": "#333", "padding": 7, "rowPadding": 5, "labelFontSize": 11, "fillColor": "#fff", "labelExpr": "datum.value == 'y' ? 'P0–P10' : 'P11 and older'"}}
           }},
          {"data": {"name": "bf"}, "mark": {"type": "line", "interpolate": "monotone", "color": "#000", "strokeWidth": 2.2, "strokeDash": [7, 4]},
           "encoding": {"x": {"field": "d", "type": "quantitative"}, "y": {"field": "p", "type": "quantitative"}}},
          {"data": {"values": [{}]}, "mark": {"type": "text", "fontSize": 11, "baseline": "middle", "dy": -2},
           "encoding": {"x": {"datum": 24}, "y": {"datum": 26}, "text": {"value": "4V CP"}}}
         ]}
      ]},
      {"title": {"text": "c", "anchor": "start", "frame": "bounds", "fontSize": 15, "fontWeight": "bold", "offset": -8},
       "spacing": 29,
       "hconcat": [
        {"width": 129, "height": 118, "title": {"text": "4V CP", "offset": 9},
         "data": {"name": "c4"},
         "encoding": {
           "x": {"field": "a", "type": "nominal", "sort": null, "scale": {"domain": ["P0","P7","P14","P21","P28+"], "paddingInner": 0.42, "paddingOuter": 0.38}, "axis": {"title": null, "labelAngle": -90, "ticks": false, "labelPadding": 4}},
           "y": {"field": "m", "type": "quantitative", "scale": {"domain": [23, 25.15], "nice": false, "zero": false}, "axis": {"values": [23,24,25], "title": "Period (h)", "titlePadding": 12}}
         },
         "layer": [
          {"mark": {"type": "bar", "strokeWidth": 1.2},
           "encoding": {"y2": {"datum": 23},
                        "fill": {"field": "a", "type": "nominal", "scale": {"domain": ["P0","P7","P14","P21","P28+"], "range": ["#c0684f","#c0684f","#ffffff","#ffffff","#ffffff"]}, "legend": null},
                        "stroke": {"field": "a", "type": "nominal", "scale": {"domain": ["P0","P7","P14","P21","P28+"], "range": ["#9a5040","#9a5040","#8a8a8a","#8a8a8a","#8a8a8a"]}, "legend": null}}},
          {"mark": {"type": "errorbar", "ticks": true, "color": "#555", "opacity": 0.85, "thickness": 1.3},
           "encoding": {"yError": {"field": "e"}}},
          {"data": {"values": [{"a": "P0", "b": "P28+"}]}, "mark": {"type": "rule", "color": "#111", "strokeWidth": 1},
           "encoding": {"x": {"field": "a", "type": "nominal"}, "x2": {"field": "b"}, "y": {"datum": 24.95}}},
          {"data": {"values": [{}]}, "mark": {"type": "text", "fontSize": 10, "baseline": "bottom", "dy": 1},
           "encoding": {"x": {"datum": "P14", "type": "nominal"}, "y": {"datum": 24.95}, "text": {"value": "***"}}}
         ]},
        {"width": 130, "height": 118, "title": {"text": "SCN", "offset": 9},
         "data": {"name": "cs"},
         "encoding": {
           "x": {"field": "a", "type": "nominal", "sort": null, "scale": {"domain": ["P0","P7","P14","P21","P28+"], "paddingInner": 0.42, "paddingOuter": 0.38}, "axis": {"title": null, "labelAngle": -90, "ticks": false, "labelPadding": 4}},
           "y": {"field": "m", "type": "quantitative", "scale": {"domain": [23, 26.17], "nice": false, "zero": false}, "axis": {"values": [23,24,25,26], "title": null}}
         },
         "layer": [
          {"mark": {"type": "bar", "strokeWidth": 1.2},
           "encoding": {"y2": {"datum": 23},
                        "fill": {"field": "a", "type": "nominal", "scale": {"domain": ["P0","P7","P14","P21","P28+"], "range": ["#c0684f","#c0684f","#ffffff","#ffffff","#ffffff"]}, "legend": null},
                        "stroke": {"field": "a", "type": "nominal", "scale": {"domain": ["P0","P7","P14","P21","P28+"], "range": ["#9a5040","#9a5040","#8a8a8a","#8a8a8a","#8a8a8a"]}, "legend": null}}},
          {"mark": {"type": "errorbar", "ticks": true, "color": "#555", "opacity": 0.85, "thickness": 1.3},
           "encoding": {"yError": {"field": "e"}}},
          {"data": {"values": [{"a": "P0", "b": "P28+"}]}, "mark": {"type": "rule", "color": "#111", "strokeWidth": 1},
           "encoding": {"x": {"field": "a", "type": "nominal"}, "x2": {"field": "b"}, "y": {"datum": 25.9}}},
          {"data": {"values": [{}]}, "mark": {"type": "text", "fontSize": 11, "baseline": "bottom", "dy": 0},
           "encoding": {"x": {"datum": "P14", "type": "nominal"}, "y": {"datum": 25.9}, "text": {"value": "NS"}}}
         ]}
       ]},
      {"title": {"text": "d", "anchor": "start", "frame": "bounds", "fontSize": 15, "fontWeight": "bold", "offset": -9},
       "spacing": 32,
       "hconcat": [
        {"width": 129, "height": 138, "title": {"text": "4V CP", "offset": 0},
         "data": {"name": "d4"},
         "mark": {"type": "point", "filled": true, "opacity": 0.7, "strokeWidth": 0.9},
         "encoding": {
           "x": {"field": "p", "type": "quantitative", "scale": {"domain": [21.75, 27.3], "nice": false, "zero": false}, "axis": {"values": [22,23,24,25,26,27], "labelOverlap": false, "title": "Period (h)", "titlePadding": 5}},
           "y": {"field": "a", "type": "quantitative", "scale": {"domain": [-4.6, 206], "nice": false}, "axis": {"values": [0,100,200], "title": "RMS amplitude (kcpm)", "labelPadding": 2, "titlePadding": 9}},
           "fill": {"field": "g", "type": "nominal", "scale": {"domain": ["y", "o"], "range": ["#ee4a30", "rgba(0,0,0,0)"]}, "legend": null},
           "stroke": {"field": "g", "type": "nominal", "scale": {"domain": ["y", "o"], "range": ["rgba(0,0,0,0)", "#111"]}, "legend": null},
           "size": {"field": "g", "type": "nominal", "scale": {"domain": ["y", "o"], "range": [45, 30]}, "legend": null}
         }},
        {"width": 134, "height": 138, "title": {"text": "SCN", "offset": 0},
         "data": {"name": "ds"},
         "mark": {"type": "point", "filled": true, "opacity": 0.7, "strokeWidth": 0.9},
         "encoding": {
           "x": {"field": "p", "type": "quantitative", "scale": {"domain": [21.85, 27.25], "nice": false, "zero": false}, "axis": {"values": [22,23,24,25,26,27], "labelOverlap": false, "title": "Period (h)", "titlePadding": 5}},
           "y": {"field": "a", "type": "quantitative", "scale": {"domain": [-1.3, 21.3], "nice": false}, "axis": {"values": [0,10,20], "title": null}},
           "fill": {"field": "g", "type": "nominal", "scale": {"domain": ["y", "o"], "range": ["#ee4a30", "rgba(0,0,0,0)"]}, "legend": null},
           "stroke": {"field": "g", "type": "nominal", "scale": {"domain": ["y", "o"], "range": ["rgba(0,0,0,0)", "#111"]}, "legend": null},
           "size": {"field": "g", "type": "nominal", "scale": {"domain": ["y", "o"], "range": [45, 30]}, "legend": null}
         }}
       ]}
    ]
  }
]
}
